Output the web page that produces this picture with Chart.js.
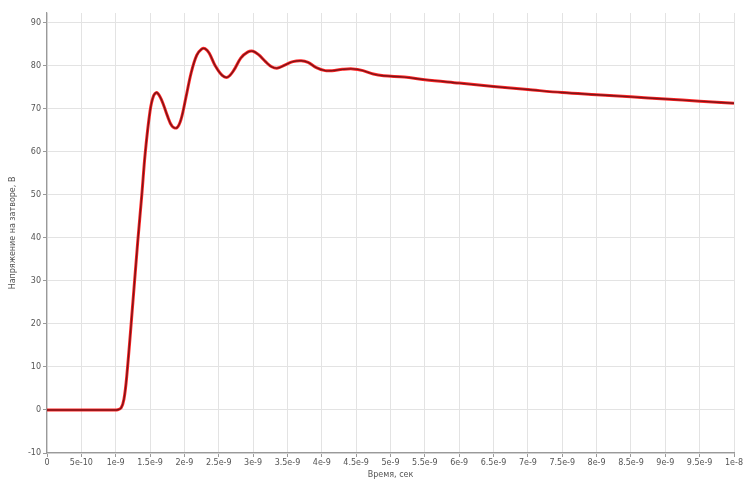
<!DOCTYPE html>
<html>
<head>
<meta charset="utf-8">
<script src="https://cdn.jsdelivr.net/npm/chart.js@4.4.1/dist/chart.umd.min.js"></script>
<style>
  html, body { margin: 0; padding: 0; background: #ffffff; }
  #wrap { width: 746px; height: 480px; }
</style>
</head>
<body>
<div id="wrap"><canvas id="c" width="746" height="480"></canvas></div>
<script>
// Gate voltage transient, time in seconds
const timeSec = [
  0, 0.5e-9, 0.95e-9, 1.03e-9, 1.08e-9, 1.12e-9, 1.16e-9, 1.25e-9, 1.32e-9, 1.38e-9, 1.43e-9,
  1.50e-9, 1.55e-9, 1.60e-9, 1.67e-9, 1.75e-9, 1.82e-9, 1.89e-9, 1.95e-9, 2.02e-9, 2.10e-9,
  2.18e-9, 2.25e-9, 2.30e-9, 2.36e-9, 2.45e-9, 2.55e-9, 2.63e-9, 2.72e-9, 2.82e-9, 2.92e-9,
  3.00e-9, 3.08e-9, 3.18e-9, 3.27e-9, 3.36e-9, 3.46e-9, 3.58e-9, 3.70e-9, 3.80e-9, 3.92e-9,
  4.05e-9, 4.15e-9, 4.30e-9, 4.45e-9, 4.60e-9, 4.75e-9, 4.90e-9, 5.20e-9, 5.50e-9, 6.00e-9,
  6.50e-9, 7.00e-9, 7.50e-9, 8.00e-9, 8.50e-9, 9.00e-9, 9.50e-9, 1.0e-8
];
const gateVoltage = [
  0, 0, 0, 0.05, 0.5, 2.5, 7.7, 25, 39, 50, 59.8,
  69.5, 73, 73.8, 72, 68.5, 66, 65.6, 67.5, 72.5, 78.5,
  82.5, 83.9, 84, 83, 80, 77.8, 77.4, 79, 81.8, 83.2,
  83.4, 82.6, 81, 79.8, 79.5, 80.2, 81, 81.2, 80.8, 79.6,
  78.9, 78.9, 79.2, 79.3, 78.9, 78.1, 77.7, 77.4, 76.8, 76.0,
  75.2, 74.5, 73.8, 73.3, 72.8, 72.3, 71.8, 71.3
];

const xTickValues = [0, 5e-10, 1e-9, 1.5e-9, 2e-9, 2.5e-9, 3e-9, 3.5e-9, 4e-9, 4.5e-9, 5e-9,
  5.5e-9, 6e-9, 6.5e-9, 7e-9, 7.5e-9, 8e-9, 8.5e-9, 9e-9, 9.5e-9, 1e-8];
const xTickLabels = ['0', '5e-10', '1e-9', '1.5e-9', '2e-9', '2.5e-9', '3e-9', '3.5e-9', '4e-9', '4.5e-9', '5e-9',
  '5.5e-9', '6e-9', '6.5e-9', '7e-9', '7.5e-9', '8e-9', '8.5e-9', '9e-9', '9.5e-9', '1e-8'];
const yTickValues = [-10, 0, 10, 20, 30, 40, 50, 60, 70, 80, 90];

const xTitle = 'Время, сек';
const yTitle = 'Напряжение на затворе, В';

const points = timeSec.map((t, i) => ({ x: t, y: gateVoltage[i] }));

const tickFont = { family: 'DejaVu Sans', size: 8 };
const gridColor = '#e3e3e3';
const axisColor = '#9a9a9a';

new Chart(document.getElementById('c'), {
  type: 'line',
  data: {
    datasets: [
      // dark core, listed first so it is painted on top
      {
        data: points,
        borderColor: '#7d1418',
        borderWidth: 1.4,
        pointRadius: 0,
        tension: 0.35,
        fill: false
      },
      {
        data: points,
        borderColor: '#ff2626',
        borderWidth: 3,
        pointRadius: 0,
        tension: 0.35,
        fill: false
      }
    ]
  },
  options: {
    responsive: false,
    animation: false,
    layout: { padding: { left: 0, right: 12, top: 13, bottom: 0 } },
    plugins: { legend: { display: false }, tooltip: { enabled: false } },
    scales: {
      x: {
        type: 'linear',
        min: 0,
        max: 1e-8,
        afterBuildTicks: (s) => { s.ticks = xTickValues.map(v => ({ value: v })); },
        afterFit: (s) => { s.height = 27; },
        ticks: {
          autoSkip: false,
          maxRotation: 0,
          padding: 1,
          color: '#555',
          font: tickFont,
          callback: (v, i) => xTickLabels[i]
        },
        grid: { color: gridColor, tickLength: 4, tickColor: axisColor },
        border: { color: axisColor, width: 1.2 },
        title: {
          display: true,
          text: xTitle,
          color: '#555',
          font: tickFont,
          padding: { top: 0, bottom: 0 }
        }
      },
      y: {
        type: 'linear',
        min: -10,
        max: 92.3,
        afterBuildTicks: (s) => { s.ticks = yTickValues.map(v => ({ value: v })); },
        afterFit: (s) => { s.width = 47; },
        ticks: {
          padding: 2,
          color: '#555',
          font: tickFont,
          callback: (v) => String(v)
        },
        grid: { color: gridColor, tickLength: 4, tickColor: axisColor },
        border: { color: axisColor, width: 1.2 },
        title: {
          display: true,
          text: yTitle,
          color: '#555',
          font: tickFont,
          padding: { top: 8, bottom: 0 }
        }
      }
    }
  }
});
</script>
</body>
</html>
